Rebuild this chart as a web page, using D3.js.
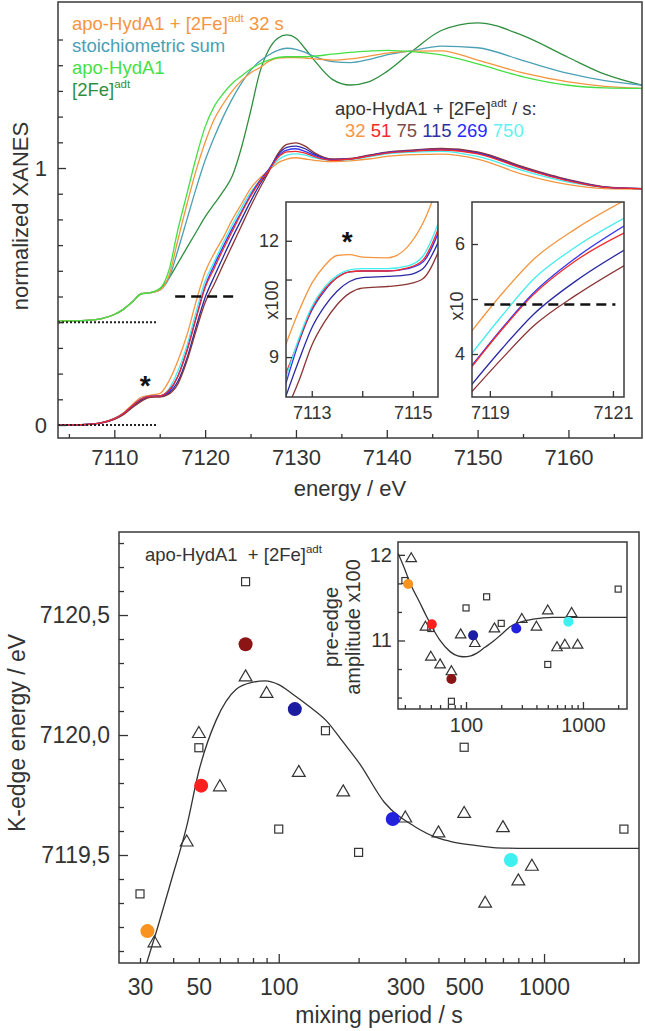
<!DOCTYPE html>
<html><head><meta charset="utf-8">
<script src="https://cdn.jsdelivr.net/npm/d3@7"></script>
<style>body{margin:0;background:#fff}svg{display:block}</style>
</head><body><svg id="c" width="645" height="1031"></svg>
<script>
// ---------------- DATA ----------------
const energy = [7103.8,7107,7108.5,7110,7111,7112,7113,7114,7115,7116,7117,7118,7119,7120,7121,7122,7123,7124,7125,7126,7127,7128,7129,7130,7131,7132,7134,7136,7138,7140,7143,7146,7150,7155,7160,7164,7168.1];
// lower group: apo-HydA1 + [2Fe]adt after mixing periods (s)
const lower32  = [0,0.002,0.008,0.026,0.047,0.08,0.109,0.116,0.122,0.17,0.25,0.35,0.48,0.595,0.668,0.73,0.80,0.86,0.92,0.96,0.99,1.02,1.035,1.04,1.035,1.03,1.025,1.028,1.035,1.045,1.052,1.054,1.035,0.975,0.935,0.92,0.918];
const lower51  = [0,0.002,0.008,0.025,0.045,0.076,0.102,0.112,0.113,0.135,0.19,0.29,0.415,0.535,0.61,0.685,0.755,0.825,0.89,0.945,0.99,1.04,1.063,1.065,1.058,1.045,1.03,1.035,1.046,1.058,1.066,1.07,1.055,0.998,0.95,0.925,0.92];
const lower75  = [0,0.002,0.007,0.022,0.04,0.068,0.093,0.108,0.109,0.12,0.16,0.25,0.367,0.477,0.548,0.625,0.70,0.775,0.85,0.92,0.985,1.055,1.092,1.098,1.085,1.06,1.035,1.037,1.05,1.062,1.07,1.076,1.063,1.005,0.955,0.927,0.92];
const lower115 = [0,0.002,0.007,0.023,0.042,0.072,0.097,0.1105,0.112,0.125,0.17,0.26,0.382,0.496,0.578,0.655,0.73,0.80,0.87,0.935,0.99,1.05,1.08,1.085,1.075,1.055,1.033,1.036,1.048,1.06,1.068,1.073,1.06,1.002,0.953,0.926,0.92];
const lower269 = [0,0.002,0.008,0.025,0.045,0.075,0.102,0.112,0.113,0.13,0.19,0.29,0.417,0.54,0.622,0.695,0.765,0.83,0.895,0.95,0.995,1.045,1.07,1.075,1.065,1.05,1.032,1.036,1.048,1.06,1.068,1.072,1.058,1.0,0.952,0.926,0.92];
const lower750 = [0,0.002,0.008,0.025,0.045,0.076,0.103,0.1125,0.1135,0.14,0.21,0.31,0.44,0.56,0.635,0.71,0.78,0.845,0.905,0.95,0.99,1.03,1.05,1.055,1.05,1.04,1.03,1.033,1.043,1.055,1.062,1.065,1.045,0.99,0.945,0.925,0.92];
// upper group (offset +0.4)
const upper32  = [0.405,0.407,0.413,0.43,0.45,0.48,0.51,0.515,0.525,0.58,0.72,0.86,0.99,1.10,1.19,1.25,1.30,1.34,1.37,1.39,1.415,1.428,1.43,1.43,1.428,1.425,1.42,1.425,1.435,1.447,1.455,1.456,1.42,1.37,1.335,1.318,1.31];
const upperSum = [0.405,0.407,0.413,0.43,0.45,0.48,0.51,0.515,0.525,0.57,0.68,0.80,0.92,1.03,1.12,1.20,1.27,1.33,1.38,1.415,1.44,1.458,1.466,1.462,1.45,1.435,1.414,1.41,1.422,1.44,1.458,1.474,1.468,1.418,1.368,1.34,1.323];
const upperApo = [0.405,0.407,0.413,0.43,0.45,0.48,0.51,0.515,0.53,0.60,0.76,0.90,1.04,1.16,1.24,1.29,1.33,1.358,1.385,1.405,1.42,1.43,1.433,1.433,1.433,1.435,1.443,1.45,1.455,1.458,1.452,1.44,1.405,1.355,1.322,1.312,1.31];
const upper2Fe = [0.405,0.407,0.413,0.43,0.45,0.48,0.512,0.515,0.53,0.57,0.63,0.69,0.75,0.81,0.86,0.91,0.97,1.08,1.22,1.37,1.46,1.505,1.518,1.505,1.465,1.42,1.345,1.323,1.335,1.375,1.46,1.535,1.565,1.515,1.43,1.365,1.322];
const timeLabels = ["32","51","75","115","269","750"];

// inset 1 (pre-edge, x100)
const inset1E = [7112.45,7112.75,7113.0,7113.25,7113.5,7113.75,7114.0,7114.5,7114.9,7115.2,7115.55];
const in1_32  = [9.2,10.2,10.9,11.35,11.62,11.64,11.58,11.56,11.85,12.45,13.6];
const in1_750 = [8.3,9.5,10.3,10.8,11.1,11.25,11.28,11.28,11.35,11.6,12.6];
const in1_51  = [8.45,9.45,10.25,10.75,11.05,11.2,11.22,11.22,11.3,11.5,12.45];
const in1_269 = [8.15,9.4,10.2,10.7,11.05,11.2,11.22,11.22,11.28,11.45,12.35];
const in1_115 = [7.85,8.93,9.75,10.3,10.7,10.95,11.05,11.08,11.12,11.28,12.1];
const in1_75  = [7.5,8.4,9.3,9.9,10.35,10.65,10.78,10.82,10.88,11.02,11.85];
// inset 2 (edge, x10)
const inset2E = [7118.68,7119.2,7119.7,7120.4,7121.2];
const in2_32  = [4.38,5.1,5.71,6.28,6.8];
const in2_750 = [3.97,4.7,5.35,5.95,6.48];
const in2_51  = [3.73,4.45,5.07,5.7,6.21];
const in2_269 = [3.75,4.47,5.1,5.75,6.34];
const in2_115 = [3.41,4.1,4.71,5.33,5.9];
const in2_75  = [3.28,3.92,4.5,5.07,5.62];

// bottom: K-edge energy vs mixing period
const sqTime = [30,50,75,100,150,200,500,2000];
const sqEdge = [7119.338,7119.947,7120.639,7119.608,7120.018,7119.511,7119.949,7119.608];
const triTime = [34,45,50,60,75,90,119,175,300,400,500,600,700,800,900];
const triEdge = [7119.135,7119.555,7120.007,7119.785,7120.243,7120.174,7119.845,7119.764,7119.655,7119.593,7119.674,7119.30,7119.615,7119.393,7119.454];
const dotTime = [32,51,75,115,269,750];
const dotEdge = [7119.183,7119.789,7120.378,7120.108,7119.65,7119.479];
const fitTime = [31.8,35,39.5,45,50,58,69,80,89,100,113,130,151,175,202,250,324,400,450,550,662,800,2280];
const fitEdge = [7119.05,7119.2,7119.40,7119.62,7119.85,7120.06,7120.19,7120.22,7120.226,7120.21,7120.17,7120.12,7120.06,7119.97,7119.88,7119.72,7119.62,7119.57,7119.555,7119.54,7119.53,7119.528,7119.528];
// bottom inset: pre-edge amplitude x100
const sqAmp  = [11.70,11.14,10.29,11.38,11.51,11.20,10.72,11.60];
const triAmp = [11.96,11.16,10.81,10.72,10.64,11.07,10.97,11.14,11.25,11.16,11.35,10.92,10.95,11.32,10.95];
const dotAmp = [11.66,11.19,10.55,11.06,11.14,11.22];
const ampFitTime = [26.2,30,33.2,40,46,53,60,73,85,95,110,123,145,171,200,238,300,376,556,2380];
const ampFitAmp  = [12.02,11.83,11.67,11.45,11.28,11.12,11.0,10.87,10.82,10.81,10.82,10.85,10.92,10.99,11.07,11.16,11.22,11.25,11.27,11.27];

// ---------------- STYLE ----------------
const FONT = '"Liberation Sans", Arial, sans-serif';
const TXT = "#333";
const C = {o:"#f5953f", r:"#f22a2a", br:"#8b3535", nv:"#2a2aa5", bl:"#3535f5", cy:"#45eeee",
           teal:"#4aa0b5", green:"#45e045", dgreen:"#2f8f3f"};
const DOT = {o:"#f7931e", r:"#ff1f1f", br:"#8b1414", nv:"#1c1ca0", bl:"#2222dd", cy:"#3ff0f0"};

const svg = d3.select("#c");
svg.append("rect").attr("width",645).attr("height",1031).attr("fill","#fff");
const defs = svg.append("defs");
function clip(id,x,y,w,h){defs.append("clipPath").attr("id",id).append("rect").attr("x",x).attr("y",y).attr("width",w).attr("height",h);}

function styleAxis(g, fs){
  g.attr("font-family",FONT).attr("font-size",fs);
  g.select(".domain").remove();
  g.selectAll(".tick line").attr("stroke","#333").attr("stroke-width",1.3);
  g.selectAll(".tick text").attr("fill",TXT);
}
function supText(parent, x, y, fs, parts, anchor){
  const t = parent.append("text").attr("x",x).attr("y",y).attr("font-family",FONT).attr("font-size",fs).attr("fill",TXT);
  if(anchor) t.attr("text-anchor",anchor);
  let raised=false;
  parts.forEach(([s,sup,col])=>{
    const ts = t.append("tspan").text(s);
    if(col) ts.attr("fill",col);
    if(sup){ ts.attr("font-size",fs*0.62).attr("dy",-fs*0.42); raised=true; }
    else if(raised){ ts.attr("dy",fs*0.42); raised=false; }
  });
  return t;
}
function frame(g,x0,x1,y0,y1){
  g.append("rect").attr("x",x0).attr("y",y0).attr("width",x1-x0).attr("height",y1-y0)
   .attr("fill","none").attr("stroke","#3a3a3a").attr("stroke-width",1.5);
}

// ---------------- TOP CHART ----------------
const xT = d3.scaleLinear([7103.8,7168.1],[58,642]);
const yT = d3.scaleLinear([-0.0506,1.646],[438,2]);
clip("cT",58,2,584,436);
const gT = svg.append("g");
const plotT = gT.append("g").attr("clip-path","url(#cT)");
const lineT = d3.line().x((d,i)=>xT(energy[i])).y(d=>yT(d)).curve(d3.curveMonotoneX);
[[upper2Fe,C.dgreen],[upperSum,C.teal],[upper32,C.o],[upperApo,C.green],
 [lower32,C.o],[lower750,C.cy],[lower115,C.nv],[lower75,C.br],[lower269,C.bl],[lower51,C.r]]
 .forEach(([s,c])=>plotT.append("path").attr("d",lineT(s)).attr("fill","none").attr("stroke",c).attr("stroke-width",1.3));
// dotted baselines & dashed half-height line
[0,0.4].forEach(v=>gT.append("line").attr("x1",xT(7103.8)).attr("x2",xT(7114.6)).attr("y1",yT(v)).attr("y2",yT(v))
  .attr("stroke","#222").attr("stroke-width",2).attr("stroke-dasharray","2,2"));
gT.append("line").attr("x1",xT(7116.7)).attr("x2",xT(7123.3)).attr("y1",yT(0.5)).attr("y2",yT(0.5))
  .attr("stroke","#111").attr("stroke-width",2.5).attr("stroke-dasharray","10,6");
gT.append("text").attr("x",xT(7113.4)).attr("y",yT(0.18)+16).attr("text-anchor","middle")
  .attr("font-family",FONT).attr("font-size",28).attr("font-weight","bold").attr("fill","#111").text("*");
frame(gT,58,642,2,438);
// axes
const gxm = gT.append("g").attr("transform","translate(0,438)").call(d3.axisBottom(xT).tickValues(d3.range(7105,7166,10)).tickSize(-4).tickFormat(""));
styleAxis(gxm,22);
const gx = gT.append("g").attr("transform","translate(0,438)").call(d3.axisBottom(xT).tickValues(d3.range(7110,7161,10)).tickSize(-8).tickPadding(11).tickFormat(d3.format("d")));
styleAxis(gx,22);
const gym = gT.append("g").attr("transform","translate(58,0)").call(d3.axisLeft(yT).tickValues(d3.range(1,16).filter(v=>v!==10).map(v=>v/10)).tickSize(-5).tickFormat(""));
styleAxis(gym,22);
const gy = gT.append("g").attr("transform","translate(58,0)").call(d3.axisLeft(yT).tickValues([0,1]).tickSize(-8).tickPadding(11).tickFormat(d3.format("d")));
styleAxis(gy,22);
gT.append("text").attr("transform","translate(20,216) rotate(-90)").attr("text-anchor","middle").attr("dominant-baseline","central")
  .attr("font-family",FONT).attr("font-size",22).attr("fill",TXT).text("normalized XANES");
gT.append("text").attr("x",350).attr("y",496).attr("text-anchor","middle")
  .attr("font-family",FONT).attr("font-size",22).attr("fill",TXT).text("energy / eV");
// legends
supText(gT,72,29.5,18.5,[["apo-HydA1 + [2Fe]"],["adt",true],[" 32 s"]]).attr("fill",C.o);
supText(gT,72,52,18.5,[["stoichiometric sum"]]).attr("fill",C.teal);
supText(gT,72,73.5,18.5,[["apo-HydA1"]]).attr("fill",C.green);
supText(gT,72,95.5,18.5,[["[2Fe]"],["adt",true]]).attr("fill",C.dgreen);
supText(gT,335,114.5,18.5,[["apo-HydA1 + [2Fe]"],["adt",true],[" / s:"]]);
const numCols = ["#f5953f","#f22a2a","#7d4d4d","#3030a5","#2a2aff","#5ff2f2"];
const tn = gT.append("text").attr("x",345).attr("y",136.5).attr("font-family",FONT).attr("font-size",18.5);
timeLabels.forEach((s,i)=>tn.append("tspan").attr("fill",numCols[i]).text(s+(i<timeLabels.length-1?" ":"")));

// inset 1
const xI1 = d3.scaleLinear([7112.49,7115.5],[286,438]);
const yI1 = d3.scaleLinear([7.97,13.0],[397,202]);
clip("cI1",286,202,152,195);
const gI1 = svg.append("g");
gI1.append("rect").attr("x",286).attr("y",202).attr("width",152).attr("height",195).attr("fill","#fff");
const pI1 = gI1.append("g").attr("clip-path","url(#cI1)");
const lineI1 = d3.line().x((d,i)=>xI1(inset1E[i])).y(d=>yI1(d)).curve(d3.curveMonotoneX);
[[in1_32,C.o],[in1_115,C.nv],[in1_75,C.br],[in1_269,C.bl],[in1_51,C.r],[in1_750,C.cy]]
 .forEach(([s,c])=>pI1.append("path").attr("d",lineI1(s)).attr("fill","none").attr("stroke",c).attr("stroke-width",1.3));
gI1.append("text").attr("x",xI1(7113.7)).attr("y",yI1(12.15)+16).attr("text-anchor","middle")
  .attr("font-family",FONT).attr("font-size",28).attr("font-weight","bold").attr("fill","#111").text("*");
frame(gI1,286,438,202,397);
const a1 = gI1.append("g").attr("transform","translate(0,397)").call(d3.axisBottom(xI1).tickValues([7113,7114,7115]).tickSize(-6).tickPadding(9).tickFormat(d=>d===7114?"":d3.format("d")(d)));
styleAxis(a1,18);
const a1y = gI1.append("g").attr("transform","translate(286,0)").call(d3.axisLeft(yI1).tickValues([9,10,11,12]).tickSize(-6).tickPadding(7).tickFormat(d=>(d===9||d===12)?d:""));
styleAxis(a1y,18);
gI1.append("text").attr("transform","translate(272,300) rotate(-90)").attr("text-anchor","middle").attr("dominant-baseline","central")
  .attr("font-family",FONT).attr("font-size",18).attr("fill",TXT).text("x100");

// inset 2
const xI2 = d3.scaleLinear([7118.71,7121.18],[472,624]);
const yI2 = d3.scaleLinear([3.218,6.764],[397,202]);
clip("cI2",472,202,152,195);
const gI2 = svg.append("g");
gI2.append("rect").attr("x",472).attr("y",202).attr("width",152).attr("height",195).attr("fill","#fff");
const pI2 = gI2.append("g").attr("clip-path","url(#cI2)");
const lineI2 = d3.line().x((d,i)=>xI2(inset2E[i])).y(d=>yI2(d)).curve(d3.curveMonotoneX);
[[in2_32,C.o],[in2_750,C.cy],[in2_115,C.nv],[in2_75,C.br],[in2_269,C.bl],[in2_51,C.r]]
 .forEach(([s,c])=>pI2.append("path").attr("d",lineI2(s)).attr("fill","none").attr("stroke",c).attr("stroke-width",1.3));
gI2.append("line").attr("x1",xI2(7118.91)).attr("x2",xI2(7121.04)).attr("y1",yI2(4.9)).attr("y2",yI2(4.9))
  .attr("stroke","#111").attr("stroke-width",2.5).attr("stroke-dasharray","10,6");
frame(gI2,472,624,202,397);
const a2 = gI2.append("g").attr("transform","translate(0,397)").call(d3.axisBottom(xI2).tickValues([7119,7120,7121]).tickSize(-6).tickPadding(9).tickFormat(d=>d===7120?"":d3.format("d")(d)));
styleAxis(a2,18);
const a2y = gI2.append("g").attr("transform","translate(472,0)").call(d3.axisLeft(yI2).tickValues([4,5,6]).tickSize(-6).tickPadding(7).tickFormat(d=>d===5?"":d));
styleAxis(a2y,18);
gI2.append("text").attr("transform","translate(457,306) rotate(-90)").attr("text-anchor","middle").attr("dominant-baseline","central")
  .attr("font-family",FONT).attr("font-size",18).attr("fill",TXT).text("x10");

// ---------------- BOTTOM CHART ----------------
const dotCols = [DOT.o,DOT.r,DOT.br,DOT.nv,DOT.bl,DOT.cy];
const xB = d3.scaleLog([25,2280],[119,639]);
const yB = d3.scaleLinear([7119.05,7120.846],[963,532]);
clip("cB",119,532,520,431);
const gB = svg.append("g");
const pB = gB.append("g").attr("clip-path","url(#cB)");
const triPath = s => `M0,${-s*0.62}L${s*0.58},${s*0.38}L${-s*0.58},${s*0.38}Z`;
function markers(g, xs, ys, times, sqV, triV, dotV, sz){
  g.append("path").attr("d",d3.line().x((d,i)=>xs(d)).y((d,i)=>ys(sz.fitY[i])).curve(d3.curveMonotoneX)(sz.fitX))
   .attr("fill","none").attr("stroke","#333").attr("stroke-width",1.3);
  sqTime.forEach((t,i)=>g.append("rect").attr("x",xs(t)-sz.sq/2).attr("y",ys(sqV[i])-sz.sq/2).attr("width",sz.sq).attr("height",sz.sq)
    .attr("fill","none").attr("stroke","#333").attr("stroke-width",1.2));
  triTime.forEach((t,i)=>g.append("path").attr("transform",`translate(${xs(t)},${ys(triV[i])})`).attr("d",triPath(sz.tri))
    .attr("fill","none").attr("stroke","#333").attr("stroke-width",1.2));
  dotTime.forEach((t,i)=>g.append("circle").attr("cx",xs(t)).attr("cy",ys(dotV[i])).attr("r",sz.r).attr("fill",dotCols[i]));
}
markers(pB,xB,yB,null,sqEdge,triEdge,dotEdge,{sq:8,tri:11,r:7,fitX:fitTime,fitY:fitEdge});
frame(gB,119,639,532,963);
const bxm = gB.append("g").attr("transform","translate(0,963)").call(d3.axisBottom(xB)
  .tickValues([30,40,50,60,70,80,90,200,300,400,500,600,700,800,900,2000]).tickSize(-5).tickFormat(""));
styleAxis(bxm,23);
const bx = gB.append("g").attr("transform","translate(0,963)").call(d3.axisBottom(xB)
  .tickValues([100,1000]).tickSize(-9).tickFormat(""));
styleAxis(bx,23);
const bxl = gB.append("g").attr("transform","translate(0,963)").call(d3.axisBottom(xB)
  .tickValues([30,50,100,300,500,1000]).tickSize(0).tickPadding(16).tickFormat(d3.format("d")));
styleAxis(bxl,23);
const comma = d3.formatLocale({decimal:",",thousands:" ",grouping:[3],currency:["",""]}).format(".1f");
const bym = gB.append("g").attr("transform","translate(119,0)").call(d3.axisLeft(yB)
  .tickValues(d3.range(71191,71209).map(v=>v/10).filter(v=>Math.abs(v*2-Math.round(v*2))>1e-6)).tickSize(-5).tickFormat(""));
styleAxis(bym,23);
const by = gB.append("g").attr("transform","translate(119,0)").call(d3.axisLeft(yB)
  .tickValues([7119.5,7120.0,7120.5]).tickSize(-9).tickPadding(9).tickFormat(comma));
styleAxis(by,23);
gB.append("text").attr("transform","translate(17,733) rotate(-90)").attr("text-anchor","middle").attr("dominant-baseline","central")
  .attr("font-family",FONT).attr("font-size",23).attr("fill",TXT).text("K-edge energy / eV");
gB.append("text").attr("x",379).attr("y",1023).attr("text-anchor","middle")
  .attr("font-family",FONT).attr("font-size",23).attr("fill",TXT).text("mixing period / s");
supText(gB,145,561,18.5,[["apo-HydA1\u00a0 + [2Fe]"],["adt",true]]);

// bottom inset
const xBI = d3.scaleLog([26.2,2380],[398,627]);
const yBI = d3.scaleLinear([10.2,12.15],[709,542]);
clip("cBI",398,542,229,167);
const gBI = svg.append("g");
gBI.append("rect").attr("x",398).attr("y",542).attr("width",229).attr("height",167).attr("fill","#fff");
const pBI = gBI.append("g").attr("clip-path","url(#cBI)");
markers(pBI,xBI,yBI,null,sqAmp,triAmp,dotAmp,{sq:6,tri:9,r:5,fitX:ampFitTime,fitY:ampFitAmp});
frame(gBI,398,627,542,709);
const ixm = gBI.append("g").attr("transform","translate(0,709)").call(d3.axisBottom(xBI)
  .tickValues([30,40,50,60,70,80,90,200,300,400,500,600,700,800,900,2000]).tickSize(-4).tickFormat(""));
styleAxis(ixm,20);
const ix = gBI.append("g").attr("transform","translate(0,709)").call(d3.axisBottom(xBI)
  .tickValues([100,1000]).tickSize(-7).tickPadding(9).tickFormat(d3.format("d")));
styleAxis(ix,20);
const iym = gBI.append("g").attr("transform","translate(398,0)").call(d3.axisLeft(yBI)
  .tickValues([10+1/3,10+2/3,11+1/3,11+2/3]).tickSize(-4).tickFormat(""));
styleAxis(iym,20);
const iy = gBI.append("g").attr("transform","translate(398,0)").call(d3.axisLeft(yBI)
  .tickValues([11,12]).tickSize(-7).tickPadding(6).tickFormat(d3.format("d")));
styleAxis(iy,20);
gBI.append("text").attr("transform","translate(331,627) rotate(-90)").attr("text-anchor","middle").attr("dominant-baseline","central")
  .attr("font-family",FONT).attr("font-size",20).attr("fill",TXT).text("pre-edge");
gBI.append("text").attr("transform","translate(353,627) rotate(-90)").attr("text-anchor","middle").attr("dominant-baseline","central")
  .attr("font-family",FONT).attr("font-size",20).attr("fill",TXT).text("amplitude x100");
</script></body></html>
